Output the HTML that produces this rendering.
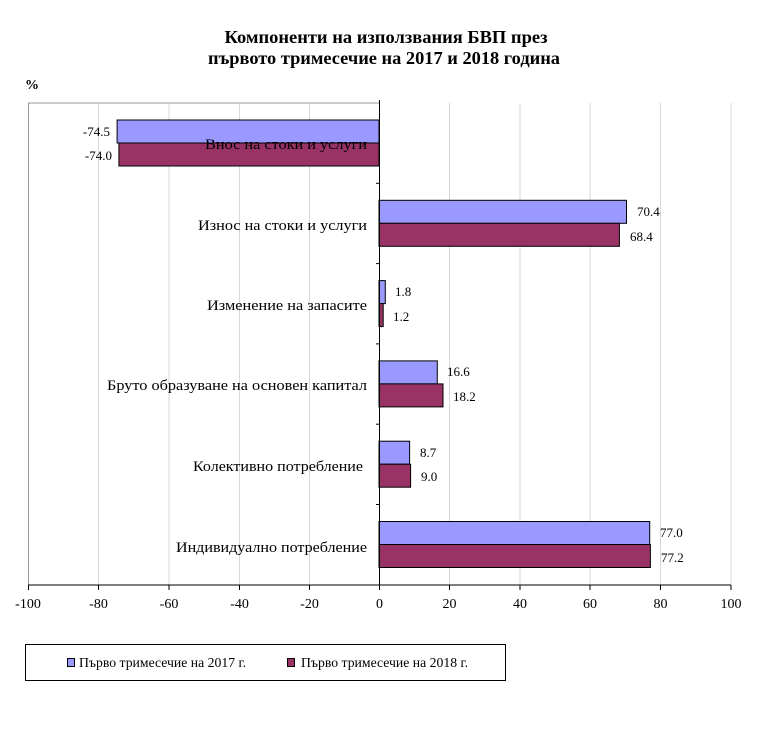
<!DOCTYPE html>
<html><head><meta charset="utf-8"><style>body{margin:0;background:#fff}</style></head><body>
<svg width="768" height="728" xmlns="http://www.w3.org/2000/svg" font-family="Liberation Serif, serif">
<rect width="768" height="728" fill="#fff"/>
<text x="386" y="43" text-anchor="middle" font-size="18" font-weight="bold" textLength="323" lengthAdjust="spacingAndGlyphs">Компоненти на използвания БВП през</text>
<text x="384" y="64" text-anchor="middle" font-size="18" font-weight="bold" textLength="352" lengthAdjust="spacingAndGlyphs">първото тримесечие на 2017 и 2018 година</text>
<text x="25" y="89" font-size="14" font-weight="bold">%</text>
<g stroke="#d8d8d8" stroke-width="1">
<line x1="98.5" y1="103" x2="98.5" y2="585"/><line x1="169" y1="103" x2="169" y2="585"/>
<line x1="239.5" y1="103" x2="239.5" y2="585"/><line x1="309.5" y1="103" x2="309.5" y2="585"/>
<line x1="449.5" y1="103" x2="449.5" y2="585"/><line x1="520" y1="103" x2="520" y2="585"/>
<line x1="590" y1="103" x2="590" y2="585"/><line x1="660.5" y1="103" x2="660.5" y2="585"/>
<line x1="731" y1="103" x2="731" y2="585"/>
</g>
<line x1="28" y1="103" x2="379" y2="103" stroke="#999"/>
<line x1="28.5" y1="103" x2="28.5" y2="585" stroke="#999"/>
<g stroke="#000" stroke-width="1">
<rect x="117.1" y="120" width="261.9" height="23" fill="#9999ff"/>
<rect x="118.9" y="143" width="260.1" height="23" fill="#993366"/>
<rect x="379" y="200.3" width="247.5" height="23" fill="#9999ff"/>
<rect x="379" y="223.3" width="240.4" height="23" fill="#993366"/>
<rect x="379" y="280.6" width="6.3" height="23" fill="#9999ff"/>
<rect x="379" y="303.6" width="4.2" height="23" fill="#993366"/>
<rect x="379" y="360.9" width="58.3" height="23" fill="#9999ff"/>
<rect x="379" y="383.9" width="64" height="23" fill="#993366"/>
<rect x="379" y="441.2" width="30.6" height="23" fill="#9999ff"/>
<rect x="379" y="464.2" width="31.6" height="23" fill="#993366"/>
<rect x="379" y="521.5" width="270.7" height="23" fill="#9999ff"/>
<rect x="379" y="544.5" width="271.4" height="23" fill="#993366"/>
</g>
<line x1="28" y1="585" x2="731" y2="585" stroke="#000"/>
<line x1="379.5" y1="100" x2="379.5" y2="585" stroke="#000"/>
<g stroke="#000">
<line x1="376" y1="183.3" x2="379" y2="183.3"/><line x1="376" y1="263.6" x2="379" y2="263.6"/>
<line x1="376" y1="343.9" x2="379" y2="343.9"/><line x1="376" y1="424.2" x2="379" y2="424.2"/>
<line x1="376" y1="504.5" x2="379" y2="504.5"/>
<line x1="28.5" y1="585" x2="28.5" y2="590"/><line x1="98.5" y1="585" x2="98.5" y2="590"/>
<line x1="169" y1="585" x2="169" y2="590"/><line x1="239.5" y1="585" x2="239.5" y2="590"/>
<line x1="309.5" y1="585" x2="309.5" y2="590"/><line x1="379.5" y1="585" x2="379.5" y2="590"/>
<line x1="449.5" y1="585" x2="449.5" y2="590"/><line x1="520" y1="585" x2="520" y2="590"/>
<line x1="590" y1="585" x2="590" y2="590"/><line x1="660.5" y1="585" x2="660.5" y2="590"/>
<line x1="731" y1="585" x2="731" y2="590"/>
</g>
<g font-size="15" lengthAdjust="spacingAndGlyphs">
<text x="205" y="149" textLength="162" lengthAdjust="spacingAndGlyphs">Внос  на стоки и услуги</text>
<text x="198" y="230" textLength="169" lengthAdjust="spacingAndGlyphs">Износ на стоки и услуги</text>
<text x="207" y="310" textLength="160" lengthAdjust="spacingAndGlyphs">Изменение на запасите</text>
<text x="107" y="390" textLength="260" lengthAdjust="spacingAndGlyphs">Бруто образуване на основен капитал</text>
<text x="193" y="471" textLength="170" lengthAdjust="spacingAndGlyphs">Колективно  потребление</text>
<text x="176" y="552" textLength="191" lengthAdjust="spacingAndGlyphs">Индивидуално  потребление</text>
</g>
<g font-size="13">
<text x="110" y="136" text-anchor="end">-74.5</text>
<text x="112" y="160" text-anchor="end">-74.0</text>
<text x="637" y="216">70.4</text><text x="630" y="241">68.4</text>
<text x="395" y="296">1.8</text><text x="393" y="321">1.2</text>
<text x="447" y="376">16.6</text><text x="453" y="401">18.2</text>
<text x="420" y="457">8.7</text><text x="421" y="481">9.0</text>
<text x="660" y="537">77.0</text><text x="661" y="562">77.2</text>
</g>
<g font-size="14" text-anchor="middle">
<text x="28" y="608">-100</text><text x="98.5" y="608">-80</text><text x="169" y="608">-60</text>
<text x="239.5" y="608">-40</text><text x="309.5" y="608">-20</text><text x="379.5" y="608">0</text>
<text x="449.5" y="608">20</text><text x="520" y="608">40</text><text x="590" y="608">60</text>
<text x="660.5" y="608">80</text><text x="731" y="608">100</text>
</g>
<rect x="25.5" y="644.5" width="480" height="36" fill="#fff" stroke="#000"/>
<rect x="67.5" y="658.5" width="7" height="8" fill="#9999ff" stroke="#000"/>
<text x="79" y="667" font-size="14" textLength="167" lengthAdjust="spacingAndGlyphs">Първо тримесечие на 2017 г.</text>
<rect x="287.5" y="658.5" width="7" height="8" fill="#993366" stroke="#000"/>
<text x="301" y="667" font-size="14" textLength="167" lengthAdjust="spacingAndGlyphs">Първо тримесечие на 2018 г.</text>
</svg>
</body></html>
